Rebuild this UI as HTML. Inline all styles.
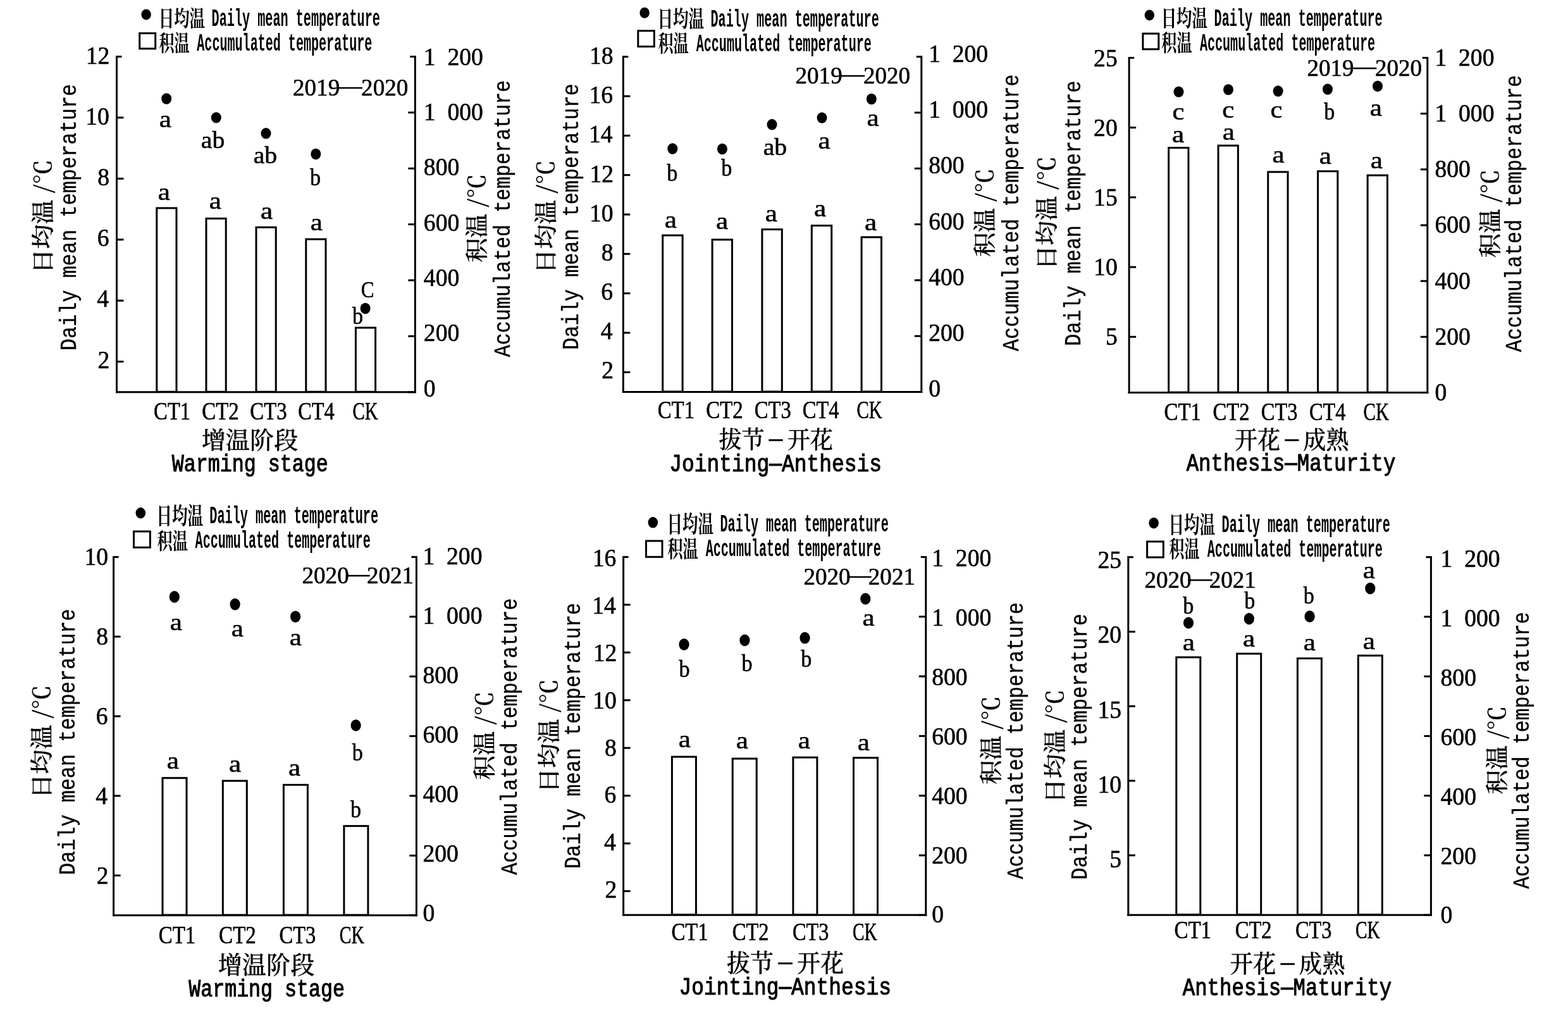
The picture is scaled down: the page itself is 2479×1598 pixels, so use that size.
<!DOCTYPE html>
<html><head><meta charset="utf-8"><title>Daily mean and accumulated temperature by warming stage</title>
<style>html,body{margin:0;padding:0;background:#fff;overflow:hidden} svg{display:block} text{white-space:pre}</style>
</head><body>
<svg width="2479" height="1598" viewBox="0 0 2479 1598">
<rect width="2479" height="1598" fill="#fff"/>
<g>
<line x1="184.50" y1="88.00" x2="184.50" y2="621.30" stroke="#000" stroke-width="3.0"/>
<line x1="656.30" y1="88.00" x2="656.30" y2="621.30" stroke="#000" stroke-width="3.0"/>
<line x1="183.00" y1="619.80" x2="657.80" y2="619.80" stroke="#000" stroke-width="3.0"/>
<line x1="184.50" y1="89.50" x2="192.50" y2="89.50" stroke="#000" stroke-width="3.0"/>
<line x1="184.50" y1="185.92" x2="195.50" y2="185.92" stroke="#000" stroke-width="3.0"/>
<line x1="184.50" y1="282.34" x2="195.50" y2="282.34" stroke="#000" stroke-width="3.0"/>
<line x1="184.50" y1="378.75" x2="195.50" y2="378.75" stroke="#000" stroke-width="3.0"/>
<line x1="184.50" y1="475.17" x2="195.50" y2="475.17" stroke="#000" stroke-width="3.0"/>
<line x1="184.50" y1="571.59" x2="195.50" y2="571.59" stroke="#000" stroke-width="3.0"/>
<line x1="645.30" y1="619.80" x2="656.30" y2="619.80" stroke="#000" stroke-width="3.0"/>
<line x1="645.30" y1="531.42" x2="656.30" y2="531.42" stroke="#000" stroke-width="3.0"/>
<line x1="645.30" y1="443.03" x2="656.30" y2="443.03" stroke="#000" stroke-width="3.0"/>
<line x1="645.30" y1="354.65" x2="656.30" y2="354.65" stroke="#000" stroke-width="3.0"/>
<line x1="645.30" y1="266.27" x2="656.30" y2="266.27" stroke="#000" stroke-width="3.0"/>
<line x1="645.30" y1="177.88" x2="656.30" y2="177.88" stroke="#000" stroke-width="3.0"/>
<line x1="648.30" y1="89.50" x2="656.30" y2="89.50" stroke="#000" stroke-width="3.0"/>
<rect x="247.80" y="328.90" width="31.20" height="290.40" fill="#fff" stroke="#000" stroke-width="3.0"/>
<rect x="326.00" y="345.40" width="31.20" height="273.90" fill="#fff" stroke="#000" stroke-width="3.0"/>
<rect x="405.00" y="359.30" width="31.20" height="260.00" fill="#fff" stroke="#000" stroke-width="3.0"/>
<rect x="483.80" y="378.10" width="31.20" height="241.20" fill="#fff" stroke="#000" stroke-width="3.0"/>
<rect x="562.40" y="518.00" width="31.20" height="101.30" fill="#fff" stroke="#000" stroke-width="3.0"/>
<ellipse cx="263.20" cy="156.00" rx="8.0" ry="8.7" fill="#000"/>
<ellipse cx="341.80" cy="185.90" rx="8.0" ry="8.7" fill="#000"/>
<ellipse cx="420.50" cy="210.80" rx="8.0" ry="8.7" fill="#000"/>
<ellipse cx="499.30" cy="243.50" rx="8.0" ry="8.7" fill="#000"/>
<ellipse cx="577.60" cy="487.50" rx="8.0" ry="8.7" fill="#000"/>
<ellipse cx="231.10" cy="22.90" rx="7.7" ry="8.5" fill="#000"/>
<rect x="220.70" y="52.60" width="25.00" height="24.30" fill="#fff" stroke="#000" stroke-width="3.0"/>
<line x1="985.30" y1="88.20" x2="985.30" y2="621.00" stroke="#000" stroke-width="3.0"/>
<line x1="1456.80" y1="88.20" x2="1456.80" y2="621.00" stroke="#000" stroke-width="3.0"/>
<line x1="983.80" y1="619.50" x2="1458.30" y2="619.50" stroke="#000" stroke-width="3.0"/>
<line x1="985.30" y1="89.70" x2="993.30" y2="89.70" stroke="#000" stroke-width="3.0"/>
<line x1="985.30" y1="152.03" x2="996.30" y2="152.03" stroke="#000" stroke-width="3.0"/>
<line x1="985.30" y1="214.36" x2="996.30" y2="214.36" stroke="#000" stroke-width="3.0"/>
<line x1="985.30" y1="276.69" x2="996.30" y2="276.69" stroke="#000" stroke-width="3.0"/>
<line x1="985.30" y1="339.02" x2="996.30" y2="339.02" stroke="#000" stroke-width="3.0"/>
<line x1="985.30" y1="401.35" x2="996.30" y2="401.35" stroke="#000" stroke-width="3.0"/>
<line x1="985.30" y1="463.68" x2="996.30" y2="463.68" stroke="#000" stroke-width="3.0"/>
<line x1="985.30" y1="526.01" x2="996.30" y2="526.01" stroke="#000" stroke-width="3.0"/>
<line x1="985.30" y1="588.34" x2="996.30" y2="588.34" stroke="#000" stroke-width="3.0"/>
<line x1="1445.80" y1="619.50" x2="1456.80" y2="619.50" stroke="#000" stroke-width="3.0"/>
<line x1="1445.80" y1="531.20" x2="1456.80" y2="531.20" stroke="#000" stroke-width="3.0"/>
<line x1="1445.80" y1="442.90" x2="1456.80" y2="442.90" stroke="#000" stroke-width="3.0"/>
<line x1="1445.80" y1="354.60" x2="1456.80" y2="354.60" stroke="#000" stroke-width="3.0"/>
<line x1="1445.80" y1="266.30" x2="1456.80" y2="266.30" stroke="#000" stroke-width="3.0"/>
<line x1="1445.80" y1="178.00" x2="1456.80" y2="178.00" stroke="#000" stroke-width="3.0"/>
<line x1="1448.80" y1="89.70" x2="1456.80" y2="89.70" stroke="#000" stroke-width="3.0"/>
<rect x="1047.70" y="372.00" width="31.40" height="247.00" fill="#fff" stroke="#000" stroke-width="3.0"/>
<rect x="1126.10" y="378.80" width="31.40" height="240.20" fill="#fff" stroke="#000" stroke-width="3.0"/>
<rect x="1204.90" y="362.60" width="31.40" height="256.40" fill="#fff" stroke="#000" stroke-width="3.0"/>
<rect x="1283.30" y="356.60" width="31.40" height="262.40" fill="#fff" stroke="#000" stroke-width="3.0"/>
<rect x="1362.10" y="374.90" width="31.40" height="244.10" fill="#fff" stroke="#000" stroke-width="3.0"/>
<ellipse cx="1063.30" cy="235.00" rx="8.0" ry="8.7" fill="#000"/>
<ellipse cx="1141.90" cy="235.50" rx="8.0" ry="8.7" fill="#000"/>
<ellipse cx="1220.50" cy="196.80" rx="8.0" ry="8.7" fill="#000"/>
<ellipse cx="1299.50" cy="186.10" rx="8.0" ry="8.7" fill="#000"/>
<ellipse cx="1377.80" cy="156.50" rx="8.0" ry="8.7" fill="#000"/>
<ellipse cx="1019.10" cy="20.20" rx="7.7" ry="8.5" fill="#000"/>
<rect x="1008.80" y="48.70" width="25.50" height="24.90" fill="#fff" stroke="#000" stroke-width="3.0"/>
<line x1="1785.10" y1="89.90" x2="1785.10" y2="622.10" stroke="#000" stroke-width="3.0"/>
<line x1="2256.80" y1="89.90" x2="2256.80" y2="622.10" stroke="#000" stroke-width="3.0"/>
<line x1="1783.60" y1="620.60" x2="2258.30" y2="620.60" stroke="#000" stroke-width="3.0"/>
<line x1="1785.10" y1="91.40" x2="1793.10" y2="91.40" stroke="#000" stroke-width="3.0"/>
<line x1="1785.10" y1="201.65" x2="1796.10" y2="201.65" stroke="#000" stroke-width="3.0"/>
<line x1="1785.10" y1="311.90" x2="1796.10" y2="311.90" stroke="#000" stroke-width="3.0"/>
<line x1="1785.10" y1="422.15" x2="1796.10" y2="422.15" stroke="#000" stroke-width="3.0"/>
<line x1="1785.10" y1="532.40" x2="1796.10" y2="532.40" stroke="#000" stroke-width="3.0"/>
<line x1="2245.80" y1="620.60" x2="2256.80" y2="620.60" stroke="#000" stroke-width="3.0"/>
<line x1="2245.80" y1="532.40" x2="2256.80" y2="532.40" stroke="#000" stroke-width="3.0"/>
<line x1="2245.80" y1="444.20" x2="2256.80" y2="444.20" stroke="#000" stroke-width="3.0"/>
<line x1="2245.80" y1="356.00" x2="2256.80" y2="356.00" stroke="#000" stroke-width="3.0"/>
<line x1="2245.80" y1="267.80" x2="2256.80" y2="267.80" stroke="#000" stroke-width="3.0"/>
<line x1="2245.80" y1="179.60" x2="2256.80" y2="179.60" stroke="#000" stroke-width="3.0"/>
<line x1="2248.80" y1="91.40" x2="2256.80" y2="91.40" stroke="#000" stroke-width="3.0"/>
<rect x="1847.65" y="233.60" width="31.30" height="386.50" fill="#fff" stroke="#000" stroke-width="3.0"/>
<rect x="1926.05" y="230.10" width="31.30" height="390.00" fill="#fff" stroke="#000" stroke-width="3.0"/>
<rect x="2004.75" y="271.80" width="31.30" height="348.30" fill="#fff" stroke="#000" stroke-width="3.0"/>
<rect x="2083.55" y="270.70" width="31.30" height="349.40" fill="#fff" stroke="#000" stroke-width="3.0"/>
<rect x="2162.15" y="277.10" width="31.30" height="343.00" fill="#fff" stroke="#000" stroke-width="3.0"/>
<ellipse cx="1863.50" cy="145.10" rx="8.0" ry="8.7" fill="#000"/>
<ellipse cx="1942.00" cy="141.60" rx="8.0" ry="8.7" fill="#000"/>
<ellipse cx="2020.60" cy="144.00" rx="8.0" ry="8.7" fill="#000"/>
<ellipse cx="2099.00" cy="141.00" rx="8.0" ry="8.7" fill="#000"/>
<ellipse cx="2178.00" cy="136.20" rx="8.0" ry="8.7" fill="#000"/>
<ellipse cx="1817.30" cy="23.90" rx="7.7" ry="8.5" fill="#000"/>
<rect x="1806.90" y="53.10" width="24.90" height="24.70" fill="#fff" stroke="#000" stroke-width="3.0"/>
<line x1="179.60" y1="878.90" x2="179.60" y2="1448.20" stroke="#000" stroke-width="3.0"/>
<line x1="658.40" y1="878.90" x2="658.40" y2="1448.20" stroke="#000" stroke-width="3.0"/>
<line x1="178.10" y1="1446.70" x2="659.90" y2="1446.70" stroke="#000" stroke-width="3.0"/>
<line x1="179.60" y1="880.40" x2="187.60" y2="880.40" stroke="#000" stroke-width="3.0"/>
<line x1="179.60" y1="1006.24" x2="190.60" y2="1006.24" stroke="#000" stroke-width="3.0"/>
<line x1="179.60" y1="1132.09" x2="190.60" y2="1132.09" stroke="#000" stroke-width="3.0"/>
<line x1="179.60" y1="1257.93" x2="190.60" y2="1257.93" stroke="#000" stroke-width="3.0"/>
<line x1="179.60" y1="1383.78" x2="190.60" y2="1383.78" stroke="#000" stroke-width="3.0"/>
<line x1="647.40" y1="1446.70" x2="658.40" y2="1446.70" stroke="#000" stroke-width="3.0"/>
<line x1="647.40" y1="1352.32" x2="658.40" y2="1352.32" stroke="#000" stroke-width="3.0"/>
<line x1="647.40" y1="1257.93" x2="658.40" y2="1257.93" stroke="#000" stroke-width="3.0"/>
<line x1="647.40" y1="1163.55" x2="658.40" y2="1163.55" stroke="#000" stroke-width="3.0"/>
<line x1="647.40" y1="1069.17" x2="658.40" y2="1069.17" stroke="#000" stroke-width="3.0"/>
<line x1="647.40" y1="974.78" x2="658.40" y2="974.78" stroke="#000" stroke-width="3.0"/>
<line x1="650.40" y1="880.40" x2="658.40" y2="880.40" stroke="#000" stroke-width="3.0"/>
<rect x="257.00" y="1229.70" width="38.00" height="216.50" fill="#fff" stroke="#000" stroke-width="3.0"/>
<rect x="352.30" y="1234.20" width="38.00" height="212.00" fill="#fff" stroke="#000" stroke-width="3.0"/>
<rect x="448.40" y="1240.50" width="38.00" height="205.70" fill="#fff" stroke="#000" stroke-width="3.0"/>
<rect x="543.90" y="1305.60" width="38.00" height="140.60" fill="#fff" stroke="#000" stroke-width="3.0"/>
<ellipse cx="275.80" cy="943.40" rx="8.1" ry="9.3" fill="#000"/>
<ellipse cx="371.60" cy="955.10" rx="8.1" ry="9.3" fill="#000"/>
<ellipse cx="467.10" cy="974.70" rx="8.1" ry="9.3" fill="#000"/>
<ellipse cx="562.60" cy="1146.50" rx="8.1" ry="9.3" fill="#000"/>
<ellipse cx="222.30" cy="810.80" rx="7.8" ry="8.7" fill="#000"/>
<rect x="211.50" y="840.00" width="25.90" height="25.30" fill="#fff" stroke="#000" stroke-width="3.0"/>
<line x1="985.60" y1="878.90" x2="985.60" y2="1447.80" stroke="#000" stroke-width="3.0"/>
<line x1="1463.80" y1="878.90" x2="1463.80" y2="1447.80" stroke="#000" stroke-width="3.0"/>
<line x1="984.10" y1="1446.30" x2="1465.30" y2="1446.30" stroke="#000" stroke-width="3.0"/>
<line x1="985.60" y1="880.40" x2="993.60" y2="880.40" stroke="#000" stroke-width="3.0"/>
<line x1="985.60" y1="955.85" x2="996.60" y2="955.85" stroke="#000" stroke-width="3.0"/>
<line x1="985.60" y1="1031.31" x2="996.60" y2="1031.31" stroke="#000" stroke-width="3.0"/>
<line x1="985.60" y1="1106.76" x2="996.60" y2="1106.76" stroke="#000" stroke-width="3.0"/>
<line x1="985.60" y1="1182.21" x2="996.60" y2="1182.21" stroke="#000" stroke-width="3.0"/>
<line x1="985.60" y1="1257.67" x2="996.60" y2="1257.67" stroke="#000" stroke-width="3.0"/>
<line x1="985.60" y1="1333.12" x2="996.60" y2="1333.12" stroke="#000" stroke-width="3.0"/>
<line x1="985.60" y1="1408.57" x2="996.60" y2="1408.57" stroke="#000" stroke-width="3.0"/>
<line x1="1452.80" y1="1446.30" x2="1463.80" y2="1446.30" stroke="#000" stroke-width="3.0"/>
<line x1="1452.80" y1="1351.98" x2="1463.80" y2="1351.98" stroke="#000" stroke-width="3.0"/>
<line x1="1452.80" y1="1257.67" x2="1463.80" y2="1257.67" stroke="#000" stroke-width="3.0"/>
<line x1="1452.80" y1="1163.35" x2="1463.80" y2="1163.35" stroke="#000" stroke-width="3.0"/>
<line x1="1452.80" y1="1069.03" x2="1463.80" y2="1069.03" stroke="#000" stroke-width="3.0"/>
<line x1="1452.80" y1="974.72" x2="1463.80" y2="974.72" stroke="#000" stroke-width="3.0"/>
<line x1="1455.80" y1="880.40" x2="1463.80" y2="880.40" stroke="#000" stroke-width="3.0"/>
<rect x="1062.40" y="1196.20" width="38.00" height="249.60" fill="#fff" stroke="#000" stroke-width="3.0"/>
<rect x="1158.20" y="1199.10" width="38.00" height="246.70" fill="#fff" stroke="#000" stroke-width="3.0"/>
<rect x="1253.90" y="1197.20" width="38.00" height="248.60" fill="#fff" stroke="#000" stroke-width="3.0"/>
<rect x="1349.50" y="1197.80" width="38.00" height="248.00" fill="#fff" stroke="#000" stroke-width="3.0"/>
<ellipse cx="1081.50" cy="1018.60" rx="8.1" ry="9.3" fill="#000"/>
<ellipse cx="1177.40" cy="1012.00" rx="8.1" ry="9.3" fill="#000"/>
<ellipse cx="1272.50" cy="1008.30" rx="8.1" ry="9.3" fill="#000"/>
<ellipse cx="1368.30" cy="946.50" rx="8.1" ry="9.3" fill="#000"/>
<ellipse cx="1032.30" cy="825.80" rx="7.8" ry="8.7" fill="#000"/>
<rect x="1021.50" y="855.00" width="25.50" height="25.30" fill="#fff" stroke="#000" stroke-width="3.0"/>
<line x1="1783.80" y1="879.10" x2="1783.80" y2="1447.70" stroke="#000" stroke-width="3.0"/>
<line x1="2262.40" y1="879.10" x2="2262.40" y2="1447.70" stroke="#000" stroke-width="3.0"/>
<line x1="1782.30" y1="1446.20" x2="2263.90" y2="1446.20" stroke="#000" stroke-width="3.0"/>
<line x1="1783.80" y1="880.60" x2="1791.80" y2="880.60" stroke="#000" stroke-width="3.0"/>
<line x1="1783.80" y1="998.43" x2="1794.80" y2="998.43" stroke="#000" stroke-width="3.0"/>
<line x1="1783.80" y1="1116.27" x2="1794.80" y2="1116.27" stroke="#000" stroke-width="3.0"/>
<line x1="1783.80" y1="1234.10" x2="1794.80" y2="1234.10" stroke="#000" stroke-width="3.0"/>
<line x1="1783.80" y1="1351.93" x2="1794.80" y2="1351.93" stroke="#000" stroke-width="3.0"/>
<line x1="2251.40" y1="1446.20" x2="2262.40" y2="1446.20" stroke="#000" stroke-width="3.0"/>
<line x1="2251.40" y1="1351.93" x2="2262.40" y2="1351.93" stroke="#000" stroke-width="3.0"/>
<line x1="2251.40" y1="1257.67" x2="2262.40" y2="1257.67" stroke="#000" stroke-width="3.0"/>
<line x1="2251.40" y1="1163.40" x2="2262.40" y2="1163.40" stroke="#000" stroke-width="3.0"/>
<line x1="2251.40" y1="1069.13" x2="2262.40" y2="1069.13" stroke="#000" stroke-width="3.0"/>
<line x1="2251.40" y1="974.87" x2="2262.40" y2="974.87" stroke="#000" stroke-width="3.0"/>
<line x1="2254.40" y1="880.60" x2="2262.40" y2="880.60" stroke="#000" stroke-width="3.0"/>
<rect x="1859.80" y="1038.90" width="38.00" height="406.80" fill="#fff" stroke="#000" stroke-width="3.0"/>
<rect x="1955.70" y="1033.20" width="38.00" height="412.50" fill="#fff" stroke="#000" stroke-width="3.0"/>
<rect x="2051.40" y="1040.70" width="38.00" height="405.00" fill="#fff" stroke="#000" stroke-width="3.0"/>
<rect x="2147.30" y="1036.20" width="38.00" height="409.50" fill="#fff" stroke="#000" stroke-width="3.0"/>
<ellipse cx="1879.00" cy="984.50" rx="8.1" ry="9.3" fill="#000"/>
<ellipse cx="1974.80" cy="978.00" rx="8.1" ry="9.3" fill="#000"/>
<ellipse cx="2070.60" cy="974.40" rx="8.1" ry="9.3" fill="#000"/>
<ellipse cx="2166.30" cy="930.00" rx="8.1" ry="9.3" fill="#000"/>
<ellipse cx="1824.10" cy="826.70" rx="7.8" ry="8.7" fill="#000"/>
<rect x="1813.60" y="856.00" width="25.70" height="24.90" fill="#fff" stroke="#000" stroke-width="3.0"/>
</g>
<g fill="#000">
<text transform="translate(135.81,100.69) scale(0.9900,1.0450)" font-family="'Liberation Serif', 'Noto Serif CJK SC', serif" font-size="38" stroke="#000" stroke-width="0.6" stroke-linejoin="round">12</text>
<text transform="translate(135.32,196.87) scale(0.9900,1.0450)" font-family="'Liberation Serif', 'Noto Serif CJK SC', serif" font-size="38" stroke="#000" stroke-width="0.6" stroke-linejoin="round">10</text>
<text transform="translate(154.13,293.06) scale(0.9900,1.0450)" font-family="'Liberation Serif', 'Noto Serif CJK SC', serif" font-size="38" stroke="#000" stroke-width="0.6" stroke-linejoin="round">8</text>
<text transform="translate(153.63,389.24) scale(0.9900,1.0450)" font-family="'Liberation Serif', 'Noto Serif CJK SC', serif" font-size="38" stroke="#000" stroke-width="0.6" stroke-linejoin="round">6</text>
<text transform="translate(153.14,485.42) scale(0.9900,1.0450)" font-family="'Liberation Serif', 'Noto Serif CJK SC', serif" font-size="38" stroke="#000" stroke-width="0.6" stroke-linejoin="round">4</text>
<text transform="translate(154.62,581.60) scale(0.9900,1.0450)" font-family="'Liberation Serif', 'Noto Serif CJK SC', serif" font-size="38" stroke="#000" stroke-width="0.6" stroke-linejoin="round">2</text>
<text transform="translate(669.83,626.79) scale(0.9900,1.0450)" font-family="'Liberation Serif', 'Noto Serif CJK SC', serif" font-size="38" stroke="#000" stroke-width="0.6" stroke-linejoin="round">0</text>
<text transform="translate(669.83,539.44) scale(0.9900,1.0450)" font-family="'Liberation Serif', 'Noto Serif CJK SC', serif" font-size="38" stroke="#000" stroke-width="0.6" stroke-linejoin="round">200</text>
<text transform="translate(669.83,452.09) scale(0.9900,1.0450)" font-family="'Liberation Serif', 'Noto Serif CJK SC', serif" font-size="38" stroke="#000" stroke-width="0.6" stroke-linejoin="round">400</text>
<text transform="translate(669.83,364.74) scale(0.9900,1.0450)" font-family="'Liberation Serif', 'Noto Serif CJK SC', serif" font-size="38" stroke="#000" stroke-width="0.6" stroke-linejoin="round">600</text>
<text transform="translate(669.83,277.39) scale(0.9900,1.0450)" font-family="'Liberation Serif', 'Noto Serif CJK SC', serif" font-size="38" stroke="#000" stroke-width="0.6" stroke-linejoin="round">800</text>
<text transform="translate(669.83,190.04) scale(0.9900,1.0450)" font-family="'Liberation Serif', 'Noto Serif CJK SC', serif" font-size="38" stroke="#000" stroke-width="0.6" stroke-linejoin="round">1 000</text>
<text transform="translate(669.83,102.69) scale(0.9900,1.0450)" font-family="'Liberation Serif', 'Noto Serif CJK SC', serif" font-size="38" stroke="#000" stroke-width="0.6" stroke-linejoin="round">1 200</text>
<text transform="translate(251.78,200.84) scale(1.1400,0.9900)" font-family="'Liberation Serif', 'Noto Serif CJK SC', serif" font-size="38" stroke="#000" stroke-width="0.6" stroke-linejoin="round">a</text>
<text transform="translate(317.87,234.25) scale(1.0450,1.0000)" font-family="'Liberation Serif', 'Noto Serif CJK SC', serif" font-size="38" stroke="#000" stroke-width="0.6" stroke-linejoin="round">ab</text>
<text transform="translate(400.67,257.65) scale(1.0450,1.0000)" font-family="'Liberation Serif', 'Noto Serif CJK SC', serif" font-size="38" stroke="#000" stroke-width="0.6" stroke-linejoin="round">ab</text>
<text transform="translate(490.12,292.50) scale(0.9000,1.0000)" font-family="'Liberation Serif', 'Noto Serif CJK SC', serif" font-size="38" stroke="#000" stroke-width="0.6" stroke-linejoin="round">b</text>
<text transform="translate(249.73,315.89) scale(1.1400,0.9900)" font-family="'Liberation Serif', 'Noto Serif CJK SC', serif" font-size="38" stroke="#000" stroke-width="0.6" stroke-linejoin="round">a</text>
<text transform="translate(330.68,329.69) scale(1.1400,0.9900)" font-family="'Liberation Serif', 'Noto Serif CJK SC', serif" font-size="38" stroke="#000" stroke-width="0.6" stroke-linejoin="round">a</text>
<text transform="translate(411.93,346.49) scale(1.1400,0.9900)" font-family="'Liberation Serif', 'Noto Serif CJK SC', serif" font-size="38" stroke="#000" stroke-width="0.6" stroke-linejoin="round">a</text>
<text transform="translate(490.73,364.34) scale(1.1400,0.9900)" font-family="'Liberation Serif', 'Noto Serif CJK SC', serif" font-size="38" stroke="#000" stroke-width="0.6" stroke-linejoin="round">a</text>
<text transform="translate(570.85,470.00) scale(0.8200,0.9700)" font-family="'Liberation Serif', 'Noto Serif CJK SC', serif" font-size="38" stroke="#000" stroke-width="0.6" stroke-linejoin="round">C</text>
<text transform="translate(557.12,512.10) scale(0.9000,1.0000)" font-family="'Liberation Serif', 'Noto Serif CJK SC', serif" font-size="38" stroke="#000" stroke-width="0.6" stroke-linejoin="round">b</text>
<text transform="translate(463.08,151.08) scale(0.9750,1.0200)" x="0.00 19.00 38.00 57.00 74.40 110.81 129.81 148.81 167.81" dy="0 0 0 0 -3 3 0 0 0" font-family="'Liberation Serif', 'Noto Serif CJK SC', serif" font-size="38" stroke="#000" stroke-width="0.6" stroke-linejoin="round">2019—2020</text>
<text transform="translate(250.79,42.00) scale(0.6785,0.9853)" font-family="'Noto Serif CJK SC', 'Noto Serif CJK SC', serif" font-size="36" font-weight="700">日均温</text>
<text transform="translate(334.57,41.20) scale(0.5313,1.0000)" font-family="'Liberation Mono', 'Noto Serif CJK SC', serif" font-size="38" font-weight="bold">Daily mean temperature</text>
<text transform="translate(251.40,81.39) scale(0.6718,0.9882)" font-family="'Noto Serif CJK SC', 'Noto Serif CJK SC', serif" font-size="36" font-weight="700">积温</text>
<text transform="translate(311.30,80.08) scale(0.5286,1.0000)" font-family="'Liberation Mono', 'Noto Serif CJK SC', serif" font-size="38" font-weight="bold">Accumulated temperature</text>
<text transform="translate(80.92,432.59) rotate(-90) scale(1.0842,1.0000)" font-family="'Noto Serif CJK SC', 'Noto Serif CJK SC', serif" font-size="36" font-weight="500" stroke="#000" stroke-width="0.3" stroke-linejoin="round">日均温 /℃</text>
<text transform="translate(120.03,554.27) rotate(-90) scale(0.8635,1.0000)" font-family="'Liberation Mono', 'Noto Serif CJK SC', serif" font-size="37" stroke="#000" stroke-width="0.4" stroke-linejoin="round">Daily mean temperature</text>
<text transform="translate(766.92,414.87) rotate(-90) scale(1.0741,1.0000)" font-family="'Noto Serif CJK SC', 'Noto Serif CJK SC', serif" font-size="36" font-weight="500" stroke="#000" stroke-width="0.3" stroke-linejoin="round">积温 /℃</text>
<text transform="translate(805.83,564.19) rotate(-90) scale(0.8570,1.0000)" font-family="'Liberation Mono', 'Noto Serif CJK SC', serif" font-size="37" stroke="#000" stroke-width="0.4" stroke-linejoin="round">Accumulated temperature</text>
<text transform="translate(242.89,662.53) scale(0.8848,1.0600)" font-family="'Liberation Serif', 'Noto Serif CJK SC', serif" font-size="37" stroke="#000" stroke-width="0.6" stroke-linejoin="round">CT1</text>
<text transform="translate(319.29,662.53) scale(0.8892,1.0600)" font-family="'Liberation Serif', 'Noto Serif CJK SC', serif" font-size="37" stroke="#000" stroke-width="0.6" stroke-linejoin="round">CT2</text>
<text transform="translate(395.29,662.53) scale(0.8854,1.0600)" font-family="'Liberation Serif', 'Noto Serif CJK SC', serif" font-size="37" stroke="#000" stroke-width="0.6" stroke-linejoin="round">CT3</text>
<text transform="translate(471.21,662.53) scale(0.8747,1.0600)" font-family="'Liberation Serif', 'Noto Serif CJK SC', serif" font-size="37" stroke="#000" stroke-width="0.6" stroke-linejoin="round">CT4</text>
<text transform="translate(557.52,662.53) scale(0.7800,1.0600)" font-family="'Liberation Serif', 'Noto Serif CJK SC', serif" font-size="37" stroke="#000" stroke-width="0.6" stroke-linejoin="round">CK</text>
<text transform="translate(318.64,708.55) scale(1.0060,1.0000)" x="0.00 38.00 76.00 114.00" dy="0.00 0.00 0.00 0.00" font-family="'Liberation Mono', 'Noto Serif CJK SC', serif" font-size="38" font-weight="500" stroke="#000" stroke-width="0.3" stroke-linejoin="round">增温阶段</text>
<text transform="translate(271.82,745.20) scale(0.8336,1.0000)" font-family="'Liberation Mono', 'Noto Serif CJK SC', serif" font-size="38" stroke="#000" stroke-width="1.1" stroke-linejoin="round">Warming stage</text>
<text transform="translate(931.92,101.09) scale(0.9900,1.0450)" font-family="'Liberation Serif', 'Noto Serif CJK SC', serif" font-size="38" stroke="#000" stroke-width="0.6" stroke-linejoin="round">18</text>
<text transform="translate(931.42,163.26) scale(0.9900,1.0450)" font-family="'Liberation Serif', 'Noto Serif CJK SC', serif" font-size="38" stroke="#000" stroke-width="0.6" stroke-linejoin="round">16</text>
<text transform="translate(930.93,225.42) scale(0.9900,1.0450)" font-family="'Liberation Serif', 'Noto Serif CJK SC', serif" font-size="38" stroke="#000" stroke-width="0.6" stroke-linejoin="round">14</text>
<text transform="translate(932.41,287.59) scale(0.9900,1.0450)" font-family="'Liberation Serif', 'Noto Serif CJK SC', serif" font-size="38" stroke="#000" stroke-width="0.6" stroke-linejoin="round">12</text>
<text transform="translate(931.92,349.75) scale(0.9900,1.0450)" font-family="'Liberation Serif', 'Noto Serif CJK SC', serif" font-size="38" stroke="#000" stroke-width="0.6" stroke-linejoin="round">10</text>
<text transform="translate(950.73,411.92) scale(0.9900,1.0450)" font-family="'Liberation Serif', 'Noto Serif CJK SC', serif" font-size="38" stroke="#000" stroke-width="0.6" stroke-linejoin="round">8</text>
<text transform="translate(950.23,474.08) scale(0.9900,1.0450)" font-family="'Liberation Serif', 'Noto Serif CJK SC', serif" font-size="38" stroke="#000" stroke-width="0.6" stroke-linejoin="round">6</text>
<text transform="translate(949.74,536.25) scale(0.9900,1.0450)" font-family="'Liberation Serif', 'Noto Serif CJK SC', serif" font-size="38" stroke="#000" stroke-width="0.6" stroke-linejoin="round">4</text>
<text transform="translate(951.22,598.41) scale(0.9900,1.0450)" font-family="'Liberation Serif', 'Noto Serif CJK SC', serif" font-size="38" stroke="#000" stroke-width="0.6" stroke-linejoin="round">2</text>
<text transform="translate(1468.13,627.49) scale(0.9900,1.0450)" font-family="'Liberation Serif', 'Noto Serif CJK SC', serif" font-size="38" stroke="#000" stroke-width="0.6" stroke-linejoin="round">0</text>
<text transform="translate(1468.13,539.23) scale(0.9900,1.0450)" font-family="'Liberation Serif', 'Noto Serif CJK SC', serif" font-size="38" stroke="#000" stroke-width="0.6" stroke-linejoin="round">200</text>
<text transform="translate(1468.13,450.96) scale(0.9900,1.0450)" font-family="'Liberation Serif', 'Noto Serif CJK SC', serif" font-size="38" stroke="#000" stroke-width="0.6" stroke-linejoin="round">400</text>
<text transform="translate(1468.13,362.69) scale(0.9900,1.0450)" font-family="'Liberation Serif', 'Noto Serif CJK SC', serif" font-size="38" stroke="#000" stroke-width="0.6" stroke-linejoin="round">600</text>
<text transform="translate(1468.13,274.43) scale(0.9900,1.0450)" font-family="'Liberation Serif', 'Noto Serif CJK SC', serif" font-size="38" stroke="#000" stroke-width="0.6" stroke-linejoin="round">800</text>
<text transform="translate(1468.13,186.16) scale(0.9900,1.0450)" font-family="'Liberation Serif', 'Noto Serif CJK SC', serif" font-size="38" stroke="#000" stroke-width="0.6" stroke-linejoin="round">1 000</text>
<text transform="translate(1468.13,97.89) scale(0.9900,1.0450)" font-family="'Liberation Serif', 'Noto Serif CJK SC', serif" font-size="38" stroke="#000" stroke-width="0.6" stroke-linejoin="round">1 200</text>
<text transform="translate(1054.28,286.35) scale(0.9000,1.0000)" font-family="'Liberation Serif', 'Noto Serif CJK SC', serif" font-size="38" stroke="#000" stroke-width="0.6" stroke-linejoin="round">b</text>
<text transform="translate(1140.28,278.25) scale(0.9000,1.0000)" font-family="'Liberation Serif', 'Noto Serif CJK SC', serif" font-size="38" stroke="#000" stroke-width="0.6" stroke-linejoin="round">b</text>
<text transform="translate(1206.72,244.65) scale(1.0450,1.0000)" font-family="'Liberation Serif', 'Noto Serif CJK SC', serif" font-size="38" stroke="#000" stroke-width="0.6" stroke-linejoin="round">ab</text>
<text transform="translate(1293.58,234.84) scale(1.1400,0.9900)" font-family="'Liberation Serif', 'Noto Serif CJK SC', serif" font-size="38" stroke="#000" stroke-width="0.6" stroke-linejoin="round">a</text>
<text transform="translate(1370.53,199.34) scale(1.1400,0.9900)" font-family="'Liberation Serif', 'Noto Serif CJK SC', serif" font-size="38" stroke="#000" stroke-width="0.6" stroke-linejoin="round">a</text>
<text transform="translate(1050.73,360.24) scale(1.1400,0.9900)" font-family="'Liberation Serif', 'Noto Serif CJK SC', serif" font-size="38" stroke="#000" stroke-width="0.6" stroke-linejoin="round">a</text>
<text transform="translate(1131.88,361.69) scale(1.1400,0.9900)" font-family="'Liberation Serif', 'Noto Serif CJK SC', serif" font-size="38" stroke="#000" stroke-width="0.6" stroke-linejoin="round">a</text>
<text transform="translate(1209.83,350.49) scale(1.1400,0.9900)" font-family="'Liberation Serif', 'Noto Serif CJK SC', serif" font-size="38" stroke="#000" stroke-width="0.6" stroke-linejoin="round">a</text>
<text transform="translate(1286.93,341.54) scale(1.1400,0.9900)" font-family="'Liberation Serif', 'Noto Serif CJK SC', serif" font-size="38" stroke="#000" stroke-width="0.6" stroke-linejoin="round">a</text>
<text transform="translate(1367.03,364.29) scale(1.1400,0.9900)" font-family="'Liberation Serif', 'Noto Serif CJK SC', serif" font-size="38" stroke="#000" stroke-width="0.6" stroke-linejoin="round">a</text>
<text transform="translate(1257.58,132.23) scale(0.9750,1.0200)" x="0.00 19.00 38.00 57.00 74.10 110.19 129.19 148.19 167.19" dy="0 0 0 0 -3 3 0 0 0" font-family="'Liberation Serif', 'Noto Serif CJK SC', serif" font-size="38" stroke="#000" stroke-width="0.6" stroke-linejoin="round">2019—2020</text>
<text transform="translate(1039.47,43.34) scale(0.6815,1.0029)" font-family="'Noto Serif CJK SC', 'Noto Serif CJK SC', serif" font-size="36" font-weight="700">日均温</text>
<text transform="translate(1123.47,42.25) scale(0.5313,1.0000)" font-family="'Liberation Mono', 'Noto Serif CJK SC', serif" font-size="38" font-weight="bold">Daily mean temperature</text>
<text transform="translate(1040.50,81.84) scale(0.6704,1.0029)" font-family="'Noto Serif CJK SC', 'Noto Serif CJK SC', serif" font-size="36" font-weight="700">积温</text>
<text transform="translate(1100.70,81.12) scale(0.5286,1.0000)" font-family="'Liberation Mono', 'Noto Serif CJK SC', serif" font-size="38" font-weight="bold">Accumulated temperature</text>
<text transform="translate(876.02,432.45) rotate(-90) scale(1.0790,1.0000)" font-family="'Noto Serif CJK SC', 'Noto Serif CJK SC', serif" font-size="36" font-weight="500" stroke="#000" stroke-width="0.3" stroke-linejoin="round">日均温 /℃</text>
<text transform="translate(913.83,552.67) rotate(-90) scale(0.8612,1.0000)" font-family="'Liberation Mono', 'Noto Serif CJK SC', serif" font-size="37" stroke="#000" stroke-width="0.4" stroke-linejoin="round">Daily mean temperature</text>
<text transform="translate(1570.17,406.07) rotate(-90) scale(1.0741,1.0000)" font-family="'Noto Serif CJK SC', 'Noto Serif CJK SC', serif" font-size="36" font-weight="500" stroke="#000" stroke-width="0.3" stroke-linejoin="round">积温 /℃</text>
<text transform="translate(1609.62,554.99) rotate(-90) scale(0.8570,1.0000)" font-family="'Liberation Mono', 'Noto Serif CJK SC', serif" font-size="37" stroke="#000" stroke-width="0.4" stroke-linejoin="round">Accumulated temperature</text>
<text transform="translate(1039.69,661.13) scale(0.8880,1.0600)" font-family="'Liberation Serif', 'Noto Serif CJK SC', serif" font-size="37" stroke="#000" stroke-width="0.6" stroke-linejoin="round">CT1</text>
<text transform="translate(1116.29,661.13) scale(0.8892,1.0600)" font-family="'Liberation Serif', 'Noto Serif CJK SC', serif" font-size="37" stroke="#000" stroke-width="0.6" stroke-linejoin="round">CT2</text>
<text transform="translate(1192.80,661.13) scale(0.8806,1.0600)" font-family="'Liberation Serif', 'Noto Serif CJK SC', serif" font-size="37" stroke="#000" stroke-width="0.6" stroke-linejoin="round">CT3</text>
<text transform="translate(1268.81,661.13) scale(0.8747,1.0600)" font-family="'Liberation Serif', 'Noto Serif CJK SC', serif" font-size="37" stroke="#000" stroke-width="0.6" stroke-linejoin="round">CT4</text>
<text transform="translate(1354.52,661.13) scale(0.7840,1.0600)" font-family="'Liberation Serif', 'Noto Serif CJK SC', serif" font-size="37" stroke="#000" stroke-width="0.6" stroke-linejoin="round">CK</text>
<text transform="translate(1136.39,708.17) scale(0.9495,0.9930)" x="0.00 38.00 83.62 114.00 152.00" dy="0.00 0.00 -3.02 3.02 0.00" font-family="'Liberation Mono', 'Noto Serif CJK SC', serif" font-size="38" font-weight="500" stroke="#000" stroke-width="0.3" stroke-linejoin="round">拔节—开花</text>
<text transform="translate(1058.32,744.75) scale(0.8659,1.0000)" font-family="'Liberation Mono', 'Noto Serif CJK SC', serif" font-size="38" stroke="#000" stroke-width="1.1" stroke-linejoin="round">Jointing—Anthesis</text>
<text transform="translate(1729.12,104.86) scale(0.9900,1.0450)" font-family="'Liberation Serif', 'Noto Serif CJK SC', serif" font-size="38" stroke="#000" stroke-width="0.6" stroke-linejoin="round">25</text>
<text transform="translate(1729.12,214.99) scale(0.9900,1.0450)" font-family="'Liberation Serif', 'Noto Serif CJK SC', serif" font-size="38" stroke="#000" stroke-width="0.6" stroke-linejoin="round">20</text>
<text transform="translate(1729.12,324.86) scale(0.9900,1.0450)" font-family="'Liberation Serif', 'Noto Serif CJK SC', serif" font-size="38" stroke="#000" stroke-width="0.6" stroke-linejoin="round">15</text>
<text transform="translate(1729.12,434.99) scale(0.9900,1.0450)" font-family="'Liberation Serif', 'Noto Serif CJK SC', serif" font-size="38" stroke="#000" stroke-width="0.6" stroke-linejoin="round">10</text>
<text transform="translate(1747.93,544.73) scale(0.9900,1.0450)" font-family="'Liberation Serif', 'Noto Serif CJK SC', serif" font-size="38" stroke="#000" stroke-width="0.6" stroke-linejoin="round">5</text>
<text transform="translate(2268.43,632.99) scale(0.9900,1.0450)" font-family="'Liberation Serif', 'Noto Serif CJK SC', serif" font-size="38" stroke="#000" stroke-width="0.6" stroke-linejoin="round">0</text>
<text transform="translate(2268.43,544.78) scale(0.9900,1.0450)" font-family="'Liberation Serif', 'Noto Serif CJK SC', serif" font-size="38" stroke="#000" stroke-width="0.6" stroke-linejoin="round">200</text>
<text transform="translate(2268.43,456.56) scale(0.9900,1.0450)" font-family="'Liberation Serif', 'Noto Serif CJK SC', serif" font-size="38" stroke="#000" stroke-width="0.6" stroke-linejoin="round">400</text>
<text transform="translate(2268.43,368.34) scale(0.9900,1.0450)" font-family="'Liberation Serif', 'Noto Serif CJK SC', serif" font-size="38" stroke="#000" stroke-width="0.6" stroke-linejoin="round">600</text>
<text transform="translate(2268.43,280.13) scale(0.9900,1.0450)" font-family="'Liberation Serif', 'Noto Serif CJK SC', serif" font-size="38" stroke="#000" stroke-width="0.6" stroke-linejoin="round">800</text>
<text transform="translate(2268.43,191.91) scale(0.9900,1.0450)" font-family="'Liberation Serif', 'Noto Serif CJK SC', serif" font-size="38" stroke="#000" stroke-width="0.6" stroke-linejoin="round">1 000</text>
<text transform="translate(2268.43,103.69) scale(0.9900,1.0450)" font-family="'Liberation Serif', 'Noto Serif CJK SC', serif" font-size="38" stroke="#000" stroke-width="0.6" stroke-linejoin="round">1 200</text>
<text transform="translate(1853.39,188.75) scale(1.1200,0.9800)" font-family="'Liberation Serif', 'Noto Serif CJK SC', serif" font-size="38" stroke="#000" stroke-width="0.6" stroke-linejoin="round">c</text>
<text transform="translate(1932.24,185.55) scale(1.1200,0.9800)" font-family="'Liberation Serif', 'Noto Serif CJK SC', serif" font-size="38" stroke="#000" stroke-width="0.6" stroke-linejoin="round">c</text>
<text transform="translate(2008.39,185.55) scale(1.1200,0.9800)" font-family="'Liberation Serif', 'Noto Serif CJK SC', serif" font-size="38" stroke="#000" stroke-width="0.6" stroke-linejoin="round">c</text>
<text transform="translate(2093.32,189.35) scale(0.9000,1.0000)" font-family="'Liberation Serif', 'Noto Serif CJK SC', serif" font-size="38" stroke="#000" stroke-width="0.6" stroke-linejoin="round">b</text>
<text transform="translate(2165.83,182.69) scale(1.1400,0.9900)" font-family="'Liberation Serif', 'Noto Serif CJK SC', serif" font-size="38" stroke="#000" stroke-width="0.6" stroke-linejoin="round">a</text>
<text transform="translate(1852.93,224.79) scale(1.1400,0.9900)" font-family="'Liberation Serif', 'Noto Serif CJK SC', serif" font-size="38" stroke="#000" stroke-width="0.6" stroke-linejoin="round">a</text>
<text transform="translate(1932.83,220.79) scale(1.1400,0.9900)" font-family="'Liberation Serif', 'Noto Serif CJK SC', serif" font-size="38" stroke="#000" stroke-width="0.6" stroke-linejoin="round">a</text>
<text transform="translate(2011.53,256.59) scale(1.1400,0.9900)" font-family="'Liberation Serif', 'Noto Serif CJK SC', serif" font-size="38" stroke="#000" stroke-width="0.6" stroke-linejoin="round">a</text>
<text transform="translate(2085.78,259.39) scale(1.1400,0.9900)" font-family="'Liberation Serif', 'Noto Serif CJK SC', serif" font-size="38" stroke="#000" stroke-width="0.6" stroke-linejoin="round">a</text>
<text transform="translate(2166.63,265.94) scale(1.1400,0.9900)" font-family="'Liberation Serif', 'Noto Serif CJK SC', serif" font-size="38" stroke="#000" stroke-width="0.6" stroke-linejoin="round">a</text>
<text transform="translate(2066.48,120.38) scale(0.9750,1.0200)" x="0.00 19.00 38.00 57.00 74.15 110.29 129.29 148.29 167.29" dy="0 0 0 0 -3 3 0 0 0" font-family="'Liberation Serif', 'Noto Serif CJK SC', serif" font-size="38" stroke="#000" stroke-width="0.6" stroke-linejoin="round">2019—2020</text>
<text transform="translate(1835.69,42.49) scale(0.6785,1.0176)" font-family="'Noto Serif CJK SC', 'Noto Serif CJK SC', serif" font-size="36" font-weight="700">日均温</text>
<text transform="translate(1919.57,41.35) scale(0.5307,1.0000)" font-family="'Liberation Mono', 'Noto Serif CJK SC', serif" font-size="38" font-weight="bold">Daily mean temperature</text>
<text transform="translate(1836.30,81.43) scale(0.6704,1.0059)" font-family="'Noto Serif CJK SC', 'Noto Serif CJK SC', serif" font-size="36" font-weight="700">积温</text>
<text transform="translate(1896.90,79.97) scale(0.5286,1.0000)" font-family="'Liberation Mono', 'Noto Serif CJK SC', serif" font-size="38" font-weight="bold">Accumulated temperature</text>
<text transform="translate(1668.22,426.56) rotate(-90) scale(1.0797,1.0000)" font-family="'Noto Serif CJK SC', 'Noto Serif CJK SC', serif" font-size="36" font-weight="500" stroke="#000" stroke-width="0.3" stroke-linejoin="round">日均温 /℃</text>
<text transform="translate(1707.53,546.66) rotate(-90) scale(0.8581,1.0000)" font-family="'Liberation Mono', 'Noto Serif CJK SC', serif" font-size="37" stroke="#000" stroke-width="0.4" stroke-linejoin="round">Daily mean temperature</text>
<text transform="translate(2369.07,407.47) rotate(-90) scale(1.0741,1.0000)" font-family="'Noto Serif CJK SC', 'Noto Serif CJK SC', serif" font-size="36" font-weight="500" stroke="#000" stroke-width="0.3" stroke-linejoin="round">积温 /℃</text>
<text transform="translate(2404.93,556.19) rotate(-90) scale(0.8570,1.0000)" font-family="'Liberation Mono', 'Noto Serif CJK SC', serif" font-size="37" stroke="#000" stroke-width="0.4" stroke-linejoin="round">Accumulated temperature</text>
<text transform="translate(1840.59,663.94) scale(0.8848,1.0600)" font-family="'Liberation Serif', 'Noto Serif CJK SC', serif" font-size="37" stroke="#000" stroke-width="0.6" stroke-linejoin="round">CT1</text>
<text transform="translate(1917.60,663.94) scale(0.8813,1.0600)" font-family="'Liberation Serif', 'Noto Serif CJK SC', serif" font-size="37" stroke="#000" stroke-width="0.6" stroke-linejoin="round">CT2</text>
<text transform="translate(1993.81,663.94) scale(0.8743,1.0600)" font-family="'Liberation Serif', 'Noto Serif CJK SC', serif" font-size="37" stroke="#000" stroke-width="0.6" stroke-linejoin="round">CT3</text>
<text transform="translate(2070.01,663.94) scale(0.8732,1.0600)" font-family="'Liberation Serif', 'Noto Serif CJK SC', serif" font-size="37" stroke="#000" stroke-width="0.6" stroke-linejoin="round">CT4</text>
<text transform="translate(2155.52,663.94) scale(0.7860,1.0600)" font-family="'Liberation Serif', 'Noto Serif CJK SC', serif" font-size="37" stroke="#000" stroke-width="0.6" stroke-linejoin="round">CK</text>
<text transform="translate(1951.91,708.51) scale(0.9509,1.0250)" x="0.00 38.00 83.62 114.00 152.00" dy="0.00 0.00 -2.93 2.93 0.00" font-family="'Liberation Mono', 'Noto Serif CJK SC', serif" font-size="38" font-weight="500" stroke="#000" stroke-width="0.3" stroke-linejoin="round">开花—成熟</text>
<text transform="translate(1875.63,744.45) scale(0.8534,1.0000)" font-family="'Liberation Mono', 'Noto Serif CJK SC', serif" font-size="38" stroke="#000" stroke-width="1.1" stroke-linejoin="round">Anthesis—Maturity</text>
<text transform="translate(133.52,892.79) scale(0.9900,1.0450)" font-family="'Liberation Serif', 'Noto Serif CJK SC', serif" font-size="38" stroke="#000" stroke-width="0.6" stroke-linejoin="round">10</text>
<text transform="translate(152.33,1018.82) scale(0.9900,1.0450)" font-family="'Liberation Serif', 'Noto Serif CJK SC', serif" font-size="38" stroke="#000" stroke-width="0.6" stroke-linejoin="round">8</text>
<text transform="translate(151.83,1144.84) scale(0.9900,1.0450)" font-family="'Liberation Serif', 'Noto Serif CJK SC', serif" font-size="38" stroke="#000" stroke-width="0.6" stroke-linejoin="round">6</text>
<text transform="translate(151.34,1270.86) scale(0.9900,1.0450)" font-family="'Liberation Serif', 'Noto Serif CJK SC', serif" font-size="38" stroke="#000" stroke-width="0.6" stroke-linejoin="round">4</text>
<text transform="translate(152.82,1396.88) scale(0.9900,1.0450)" font-family="'Liberation Serif', 'Noto Serif CJK SC', serif" font-size="38" stroke="#000" stroke-width="0.6" stroke-linejoin="round">2</text>
<text transform="translate(668.43,1455.99) scale(0.9900,1.0450)" font-family="'Liberation Serif', 'Noto Serif CJK SC', serif" font-size="38" stroke="#000" stroke-width="0.6" stroke-linejoin="round">0</text>
<text transform="translate(668.43,1361.93) scale(0.9900,1.0450)" font-family="'Liberation Serif', 'Noto Serif CJK SC', serif" font-size="38" stroke="#000" stroke-width="0.6" stroke-linejoin="round">200</text>
<text transform="translate(668.43,1267.86) scale(0.9900,1.0450)" font-family="'Liberation Serif', 'Noto Serif CJK SC', serif" font-size="38" stroke="#000" stroke-width="0.6" stroke-linejoin="round">400</text>
<text transform="translate(668.43,1173.79) scale(0.9900,1.0450)" font-family="'Liberation Serif', 'Noto Serif CJK SC', serif" font-size="38" stroke="#000" stroke-width="0.6" stroke-linejoin="round">600</text>
<text transform="translate(668.43,1079.73) scale(0.9900,1.0450)" font-family="'Liberation Serif', 'Noto Serif CJK SC', serif" font-size="38" stroke="#000" stroke-width="0.6" stroke-linejoin="round">800</text>
<text transform="translate(668.43,985.66) scale(0.9900,1.0450)" font-family="'Liberation Serif', 'Noto Serif CJK SC', serif" font-size="38" stroke="#000" stroke-width="0.6" stroke-linejoin="round">1 000</text>
<text transform="translate(668.43,891.59) scale(0.9900,1.0450)" font-family="'Liberation Serif', 'Noto Serif CJK SC', serif" font-size="38" stroke="#000" stroke-width="0.6" stroke-linejoin="round">1 200</text>
<text transform="translate(268.73,996.39) scale(1.1400,0.9900)" font-family="'Liberation Serif', 'Noto Serif CJK SC', serif" font-size="38" stroke="#000" stroke-width="0.6" stroke-linejoin="round">a</text>
<text transform="translate(365.83,1005.64) scale(1.1400,0.9900)" font-family="'Liberation Serif', 'Noto Serif CJK SC', serif" font-size="38" stroke="#000" stroke-width="0.6" stroke-linejoin="round">a</text>
<text transform="translate(457.73,1019.59) scale(1.1400,0.9900)" font-family="'Liberation Serif', 'Noto Serif CJK SC', serif" font-size="38" stroke="#000" stroke-width="0.6" stroke-linejoin="round">a</text>
<text transform="translate(556.73,1201.65) scale(0.9000,1.0000)" font-family="'Liberation Serif', 'Noto Serif CJK SC', serif" font-size="38" stroke="#000" stroke-width="0.6" stroke-linejoin="round">b</text>
<text transform="translate(263.78,1215.44) scale(1.1400,0.9900)" font-family="'Liberation Serif', 'Noto Serif CJK SC', serif" font-size="38" stroke="#000" stroke-width="0.6" stroke-linejoin="round">a</text>
<text transform="translate(361.93,1220.49) scale(1.1400,0.9900)" font-family="'Liberation Serif', 'Noto Serif CJK SC', serif" font-size="38" stroke="#000" stroke-width="0.6" stroke-linejoin="round">a</text>
<text transform="translate(455.93,1225.59) scale(1.1400,0.9900)" font-family="'Liberation Serif', 'Noto Serif CJK SC', serif" font-size="38" stroke="#000" stroke-width="0.6" stroke-linejoin="round">a</text>
<text transform="translate(553.97,1291.65) scale(0.9000,1.0000)" font-family="'Liberation Serif', 'Noto Serif CJK SC', serif" font-size="38" stroke="#000" stroke-width="0.6" stroke-linejoin="round">b</text>
<text transform="translate(477.58,922.23) scale(0.9750,1.0200)" x="0.00 19.00 38.00 57.00 71.50 104.99 123.99 142.99 161.99" dy="0 0 0 0 -3 3 0 0 0" font-family="'Liberation Serif', 'Noto Serif CJK SC', serif" font-size="38" stroke="#000" stroke-width="0.6" stroke-linejoin="round">2020—2021</text>
<text transform="translate(247.35,828.83) scale(0.6844,1.0382)" font-family="'Noto Serif CJK SC', 'Noto Serif CJK SC', serif" font-size="36" font-weight="700">日均温</text>
<text transform="translate(331.37,827.20) scale(0.5317,1.0000)" font-family="'Liberation Mono', 'Noto Serif CJK SC', serif" font-size="38" font-weight="bold">Daily mean temperature</text>
<text transform="translate(248.40,867.52) scale(0.6732,0.9794)" font-family="'Noto Serif CJK SC', 'Noto Serif CJK SC', serif" font-size="36" font-weight="700">积温</text>
<text transform="translate(308.60,865.83) scale(0.5286,1.0000)" font-family="'Liberation Mono', 'Noto Serif CJK SC', serif" font-size="38" font-weight="bold">Accumulated temperature</text>
<text transform="translate(79.33,1262.26) rotate(-90) scale(1.0797,1.0000)" font-family="'Noto Serif CJK SC', 'Noto Serif CJK SC', serif" font-size="36" font-weight="500" stroke="#000" stroke-width="0.3" stroke-linejoin="round">日均温 /℃</text>
<text transform="translate(118.22,1383.07) rotate(-90) scale(0.8614,1.0000)" font-family="'Liberation Mono', 'Noto Serif CJK SC', serif" font-size="37" stroke="#000" stroke-width="0.4" stroke-linejoin="round">Daily mean temperature</text>
<text transform="translate(779.08,1232.87) rotate(-90) scale(1.0741,1.0000)" font-family="'Noto Serif CJK SC', 'Noto Serif CJK SC', serif" font-size="36" font-weight="500" stroke="#000" stroke-width="0.3" stroke-linejoin="round">积温 /℃</text>
<text transform="translate(816.67,1382.79) rotate(-90) scale(0.8570,1.0000)" font-family="'Liberation Mono', 'Noto Serif CJK SC', serif" font-size="37" stroke="#000" stroke-width="0.4" stroke-linejoin="round">Accumulated temperature</text>
<text transform="translate(250.69,1490.58) scale(0.8896,1.0600)" font-family="'Liberation Serif', 'Noto Serif CJK SC', serif" font-size="37" stroke="#000" stroke-width="0.6" stroke-linejoin="round">CT1</text>
<text transform="translate(346.08,1490.58) scale(0.8940,1.0600)" font-family="'Liberation Serif', 'Noto Serif CJK SC', serif" font-size="37" stroke="#000" stroke-width="0.6" stroke-linejoin="round">CT2</text>
<text transform="translate(441.50,1490.58) scale(0.8791,1.0600)" font-family="'Liberation Serif', 'Noto Serif CJK SC', serif" font-size="37" stroke="#000" stroke-width="0.6" stroke-linejoin="round">CT3</text>
<text transform="translate(536.75,1490.58) scale(0.7600,1.0600)" font-family="'Liberation Serif', 'Noto Serif CJK SC', serif" font-size="37" stroke="#000" stroke-width="0.6" stroke-linejoin="round">CK</text>
<text transform="translate(344.64,1538.80) scale(1.0047,1.0141)" x="0.00 38.00 76.00 114.00" dy="0.00 0.00 0.00 0.00" font-family="'Liberation Mono', 'Noto Serif CJK SC', serif" font-size="38" font-weight="500" stroke="#000" stroke-width="0.3" stroke-linejoin="round">增温阶段</text>
<text transform="translate(298.22,1574.85) scale(0.8325,1.0000)" font-family="'Liberation Mono', 'Noto Serif CJK SC', serif" font-size="38" stroke="#000" stroke-width="1.1" stroke-linejoin="round">Warming stage</text>
<text transform="translate(936.72,895.09) scale(0.9900,1.0450)" font-family="'Liberation Serif', 'Noto Serif CJK SC', serif" font-size="38" stroke="#000" stroke-width="0.6" stroke-linejoin="round">16</text>
<text transform="translate(936.23,969.95) scale(0.9900,1.0450)" font-family="'Liberation Serif', 'Noto Serif CJK SC', serif" font-size="38" stroke="#000" stroke-width="0.6" stroke-linejoin="round">14</text>
<text transform="translate(937.71,1044.80) scale(0.9900,1.0450)" font-family="'Liberation Serif', 'Noto Serif CJK SC', serif" font-size="38" stroke="#000" stroke-width="0.6" stroke-linejoin="round">12</text>
<text transform="translate(937.22,1119.65) scale(0.9900,1.0450)" font-family="'Liberation Serif', 'Noto Serif CJK SC', serif" font-size="38" stroke="#000" stroke-width="0.6" stroke-linejoin="round">10</text>
<text transform="translate(956.03,1194.51) scale(0.9900,1.0450)" font-family="'Liberation Serif', 'Noto Serif CJK SC', serif" font-size="38" stroke="#000" stroke-width="0.6" stroke-linejoin="round">8</text>
<text transform="translate(955.53,1269.36) scale(0.9900,1.0450)" font-family="'Liberation Serif', 'Noto Serif CJK SC', serif" font-size="38" stroke="#000" stroke-width="0.6" stroke-linejoin="round">6</text>
<text transform="translate(955.04,1344.21) scale(0.9900,1.0450)" font-family="'Liberation Serif', 'Noto Serif CJK SC', serif" font-size="38" stroke="#000" stroke-width="0.6" stroke-linejoin="round">4</text>
<text transform="translate(956.52,1419.07) scale(0.9900,1.0450)" font-family="'Liberation Serif', 'Noto Serif CJK SC', serif" font-size="38" stroke="#000" stroke-width="0.6" stroke-linejoin="round">2</text>
<text transform="translate(1473.23,1458.49) scale(0.9900,1.0450)" font-family="'Liberation Serif', 'Noto Serif CJK SC', serif" font-size="38" stroke="#000" stroke-width="0.6" stroke-linejoin="round">0</text>
<text transform="translate(1473.23,1364.59) scale(0.9900,1.0450)" font-family="'Liberation Serif', 'Noto Serif CJK SC', serif" font-size="38" stroke="#000" stroke-width="0.6" stroke-linejoin="round">200</text>
<text transform="translate(1473.23,1270.69) scale(0.9900,1.0450)" font-family="'Liberation Serif', 'Noto Serif CJK SC', serif" font-size="38" stroke="#000" stroke-width="0.6" stroke-linejoin="round">400</text>
<text transform="translate(1473.23,1176.79) scale(0.9900,1.0450)" font-family="'Liberation Serif', 'Noto Serif CJK SC', serif" font-size="38" stroke="#000" stroke-width="0.6" stroke-linejoin="round">600</text>
<text transform="translate(1473.23,1082.89) scale(0.9900,1.0450)" font-family="'Liberation Serif', 'Noto Serif CJK SC', serif" font-size="38" stroke="#000" stroke-width="0.6" stroke-linejoin="round">800</text>
<text transform="translate(1473.23,988.99) scale(0.9900,1.0450)" font-family="'Liberation Serif', 'Noto Serif CJK SC', serif" font-size="38" stroke="#000" stroke-width="0.6" stroke-linejoin="round">1 000</text>
<text transform="translate(1473.23,895.09) scale(0.9900,1.0450)" font-family="'Liberation Serif', 'Noto Serif CJK SC', serif" font-size="38" stroke="#000" stroke-width="0.6" stroke-linejoin="round">1 200</text>
<text transform="translate(1073.53,1070.10) scale(0.9000,1.0000)" font-family="'Liberation Serif', 'Noto Serif CJK SC', serif" font-size="38" stroke="#000" stroke-width="0.6" stroke-linejoin="round">b</text>
<text transform="translate(1172.42,1060.85) scale(0.9000,1.0000)" font-family="'Liberation Serif', 'Noto Serif CJK SC', serif" font-size="38" stroke="#000" stroke-width="0.6" stroke-linejoin="round">b</text>
<text transform="translate(1266.17,1053.85) scale(0.9000,1.0000)" font-family="'Liberation Serif', 'Noto Serif CJK SC', serif" font-size="38" stroke="#000" stroke-width="0.6" stroke-linejoin="round">b</text>
<text transform="translate(1363.53,989.44) scale(1.1400,0.9900)" font-family="'Liberation Serif', 'Noto Serif CJK SC', serif" font-size="38" stroke="#000" stroke-width="0.6" stroke-linejoin="round">a</text>
<text transform="translate(1072.73,1180.54) scale(1.1400,0.9900)" font-family="'Liberation Serif', 'Noto Serif CJK SC', serif" font-size="38" stroke="#000" stroke-width="0.6" stroke-linejoin="round">a</text>
<text transform="translate(1163.83,1183.04) scale(1.1400,0.9900)" font-family="'Liberation Serif', 'Noto Serif CJK SC', serif" font-size="38" stroke="#000" stroke-width="0.6" stroke-linejoin="round">a</text>
<text transform="translate(1261.73,1183.34) scale(1.1400,0.9900)" font-family="'Liberation Serif', 'Noto Serif CJK SC', serif" font-size="38" stroke="#000" stroke-width="0.6" stroke-linejoin="round">a</text>
<text transform="translate(1355.73,1186.14) scale(1.1400,0.9900)" font-family="'Liberation Serif', 'Noto Serif CJK SC', serif" font-size="38" stroke="#000" stroke-width="0.6" stroke-linejoin="round">a</text>
<text transform="translate(1270.48,924.38) scale(0.9750,1.0200)" x="0.00 19.00 38.00 57.00 71.50 104.99 123.99 142.99 161.99" dy="0 0 0 0 -3 3 0 0 0" font-family="'Liberation Serif', 'Noto Serif CJK SC', serif" font-size="38" stroke="#000" stroke-width="0.6" stroke-linejoin="round">2020—2021</text>
<text transform="translate(1054.48,841.93) scale(0.6795,1.0382)" font-family="'Noto Serif CJK SC', 'Noto Serif CJK SC', serif" font-size="36" font-weight="700">日均温</text>
<text transform="translate(1138.47,840.35) scale(0.5313,1.0000)" font-family="'Liberation Mono', 'Noto Serif CJK SC', serif" font-size="38" font-weight="bold">Daily mean temperature</text>
<text transform="translate(1055.50,880.54) scale(0.6704,1.0029)" font-family="'Noto Serif CJK SC', 'Noto Serif CJK SC', serif" font-size="36" font-weight="700">积温</text>
<text transform="translate(1115.70,878.92) scale(0.5286,1.0000)" font-family="'Liberation Mono', 'Noto Serif CJK SC', serif" font-size="38" font-weight="bold">Accumulated temperature</text>
<text transform="translate(880.58,1252.97) rotate(-90) scale(1.0810,1.0000)" font-family="'Noto Serif CJK SC', 'Noto Serif CJK SC', serif" font-size="36" font-weight="500" stroke="#000" stroke-width="0.3" stroke-linejoin="round">日均温 /℃</text>
<text transform="translate(917.02,1373.37) rotate(-90) scale(0.8614,1.0000)" font-family="'Liberation Mono', 'Noto Serif CJK SC', serif" font-size="37" stroke="#000" stroke-width="0.4" stroke-linejoin="round">Daily mean temperature</text>
<text transform="translate(1580.08,1240.07) rotate(-90) scale(1.0741,1.0000)" font-family="'Noto Serif CJK SC', 'Noto Serif CJK SC', serif" font-size="36" font-weight="500" stroke="#000" stroke-width="0.3" stroke-linejoin="round">积温 /℃</text>
<text transform="translate(1617.12,1389.39) rotate(-90) scale(0.8570,1.0000)" font-family="'Liberation Mono', 'Noto Serif CJK SC', serif" font-size="37" stroke="#000" stroke-width="0.4" stroke-linejoin="round">Accumulated temperature</text>
<text transform="translate(1061.49,1486.38) scale(0.8848,1.0600)" font-family="'Liberation Serif', 'Noto Serif CJK SC', serif" font-size="37" stroke="#000" stroke-width="0.6" stroke-linejoin="round">CT1</text>
<text transform="translate(1157.80,1486.38) scale(0.8797,1.0600)" font-family="'Liberation Serif', 'Noto Serif CJK SC', serif" font-size="37" stroke="#000" stroke-width="0.6" stroke-linejoin="round">CT2</text>
<text transform="translate(1252.91,1486.38) scale(0.8727,1.0600)" font-family="'Liberation Serif', 'Noto Serif CJK SC', serif" font-size="37" stroke="#000" stroke-width="0.6" stroke-linejoin="round">CT3</text>
<text transform="translate(1347.96,1486.38) scale(0.7540,1.0600)" font-family="'Liberation Serif', 'Noto Serif CJK SC', serif" font-size="37" stroke="#000" stroke-width="0.6" stroke-linejoin="round">CK</text>
<text transform="translate(1148.97,1536.33) scale(0.9750,1.0070)" x="0.00 38.00 83.62 114.00 152.00" dy="0.00 0.00 -2.98 2.98 0.00" font-family="'Liberation Mono', 'Noto Serif CJK SC', serif" font-size="38" font-weight="500" stroke="#000" stroke-width="0.3" stroke-linejoin="round">拔节—开花</text>
<text transform="translate(1073.62,1572.35) scale(0.8651,1.0000)" font-family="'Liberation Mono', 'Noto Serif CJK SC', serif" font-size="38" stroke="#000" stroke-width="1.1" stroke-linejoin="round">Jointing—Anthesis</text>
<text transform="translate(1735.42,897.96) scale(0.9900,1.0450)" font-family="'Liberation Serif', 'Noto Serif CJK SC', serif" font-size="38" stroke="#000" stroke-width="0.6" stroke-linejoin="round">25</text>
<text transform="translate(1735.42,1016.45) scale(0.9900,1.0450)" font-family="'Liberation Serif', 'Noto Serif CJK SC', serif" font-size="38" stroke="#000" stroke-width="0.6" stroke-linejoin="round">20</text>
<text transform="translate(1735.42,1134.67) scale(0.9900,1.0450)" font-family="'Liberation Serif', 'Noto Serif CJK SC', serif" font-size="38" stroke="#000" stroke-width="0.6" stroke-linejoin="round">15</text>
<text transform="translate(1735.42,1253.16) scale(0.9900,1.0450)" font-family="'Liberation Serif', 'Noto Serif CJK SC', serif" font-size="38" stroke="#000" stroke-width="0.6" stroke-linejoin="round">10</text>
<text transform="translate(1754.23,1371.25) scale(0.9900,1.0450)" font-family="'Liberation Serif', 'Noto Serif CJK SC', serif" font-size="38" stroke="#000" stroke-width="0.6" stroke-linejoin="round">5</text>
<text transform="translate(2277.53,1459.39) scale(0.9900,1.0450)" font-family="'Liberation Serif', 'Noto Serif CJK SC', serif" font-size="38" stroke="#000" stroke-width="0.6" stroke-linejoin="round">0</text>
<text transform="translate(2277.53,1365.51) scale(0.9900,1.0450)" font-family="'Liberation Serif', 'Noto Serif CJK SC', serif" font-size="38" stroke="#000" stroke-width="0.6" stroke-linejoin="round">200</text>
<text transform="translate(2277.53,1271.63) scale(0.9900,1.0450)" font-family="'Liberation Serif', 'Noto Serif CJK SC', serif" font-size="38" stroke="#000" stroke-width="0.6" stroke-linejoin="round">400</text>
<text transform="translate(2277.53,1177.74) scale(0.9900,1.0450)" font-family="'Liberation Serif', 'Noto Serif CJK SC', serif" font-size="38" stroke="#000" stroke-width="0.6" stroke-linejoin="round">600</text>
<text transform="translate(2277.53,1083.86) scale(0.9900,1.0450)" font-family="'Liberation Serif', 'Noto Serif CJK SC', serif" font-size="38" stroke="#000" stroke-width="0.6" stroke-linejoin="round">800</text>
<text transform="translate(2277.53,989.98) scale(0.9900,1.0450)" font-family="'Liberation Serif', 'Noto Serif CJK SC', serif" font-size="38" stroke="#000" stroke-width="0.6" stroke-linejoin="round">1 000</text>
<text transform="translate(2277.53,896.09) scale(0.9900,1.0450)" font-family="'Liberation Serif', 'Noto Serif CJK SC', serif" font-size="38" stroke="#000" stroke-width="0.6" stroke-linejoin="round">1 200</text>
<text transform="translate(1870.17,970.30) scale(0.9000,1.0000)" font-family="'Liberation Serif', 'Noto Serif CJK SC', serif" font-size="38" stroke="#000" stroke-width="0.6" stroke-linejoin="round">b</text>
<text transform="translate(1967.22,962.15) scale(0.9000,1.0000)" font-family="'Liberation Serif', 'Noto Serif CJK SC', serif" font-size="38" stroke="#000" stroke-width="0.6" stroke-linejoin="round">b</text>
<text transform="translate(2060.73,954.35) scale(0.9000,1.0000)" font-family="'Liberation Serif', 'Noto Serif CJK SC', serif" font-size="38" stroke="#000" stroke-width="0.6" stroke-linejoin="round">b</text>
<text transform="translate(2154.63,914.39) scale(1.1400,0.9900)" font-family="'Liberation Serif', 'Noto Serif CJK SC', serif" font-size="38" stroke="#000" stroke-width="0.6" stroke-linejoin="round">a</text>
<text transform="translate(1869.83,1027.64) scale(1.1400,0.9900)" font-family="'Liberation Serif', 'Noto Serif CJK SC', serif" font-size="38" stroke="#000" stroke-width="0.6" stroke-linejoin="round">a</text>
<text transform="translate(1964.98,1022.49) scale(1.1400,0.9900)" font-family="'Liberation Serif', 'Noto Serif CJK SC', serif" font-size="38" stroke="#000" stroke-width="0.6" stroke-linejoin="round">a</text>
<text transform="translate(2060.73,1028.39) scale(1.1400,0.9900)" font-family="'Liberation Serif', 'Noto Serif CJK SC', serif" font-size="38" stroke="#000" stroke-width="0.6" stroke-linejoin="round">a</text>
<text transform="translate(2154.63,1026.14) scale(1.1400,0.9900)" font-family="'Liberation Serif', 'Noto Serif CJK SC', serif" font-size="38" stroke="#000" stroke-width="0.6" stroke-linejoin="round">a</text>
<text transform="translate(1809.38,928.68) scale(0.9750,1.0200)" x="0.00 19.00 38.00 57.00 71.50 104.99 123.99 142.99 161.99" dy="0 0 0 0 -3 3 0 0 0" font-family="'Liberation Serif', 'Noto Serif CJK SC', serif" font-size="38" stroke="#000" stroke-width="0.6" stroke-linejoin="round">2020—2021</text>
<text transform="translate(1847.58,842.84) scale(0.6805,1.0353)" font-family="'Noto Serif CJK SC', 'Noto Serif CJK SC', serif" font-size="36" font-weight="700">日均温</text>
<text transform="translate(1931.57,841.15) scale(0.5311,1.0000)" font-family="'Liberation Mono', 'Noto Serif CJK SC', serif" font-size="38" font-weight="bold">Daily mean temperature</text>
<text transform="translate(1848.60,881.43) scale(0.6648,1.0059)" font-family="'Noto Serif CJK SC', 'Noto Serif CJK SC', serif" font-size="36" font-weight="700">积温</text>
<text transform="translate(1908.80,879.98) scale(0.5286,1.0000)" font-family="'Liberation Mono', 'Noto Serif CJK SC', serif" font-size="38" font-weight="bold">Accumulated temperature</text>
<text transform="translate(1680.88,1269.47) rotate(-90) scale(1.0810,1.0000)" font-family="'Noto Serif CJK SC', 'Noto Serif CJK SC', serif" font-size="36" font-weight="500" stroke="#000" stroke-width="0.3" stroke-linejoin="round">日均温 /℃</text>
<text transform="translate(1718.22,1390.57) rotate(-90) scale(0.8614,1.0000)" font-family="'Liberation Mono', 'Noto Serif CJK SC', serif" font-size="37" stroke="#000" stroke-width="0.4" stroke-linejoin="round">Daily mean temperature</text>
<text transform="translate(2380.07,1255.47) rotate(-90) scale(1.0741,1.0000)" font-family="'Noto Serif CJK SC', 'Noto Serif CJK SC', serif" font-size="36" font-weight="500" stroke="#000" stroke-width="0.3" stroke-linejoin="round">积温 /℃</text>
<text transform="translate(2416.88,1404.69) rotate(-90) scale(0.8570,1.0000)" font-family="'Liberation Mono', 'Noto Serif CJK SC', serif" font-size="37" stroke="#000" stroke-width="0.4" stroke-linejoin="round">Accumulated temperature</text>
<text transform="translate(1856.49,1482.79) scale(0.8912,1.0600)" font-family="'Liberation Serif', 'Noto Serif CJK SC', serif" font-size="37" stroke="#000" stroke-width="0.6" stroke-linejoin="round">CT1</text>
<text transform="translate(1952.80,1482.79) scale(0.8797,1.0600)" font-family="'Liberation Serif', 'Noto Serif CJK SC', serif" font-size="37" stroke="#000" stroke-width="0.6" stroke-linejoin="round">CT2</text>
<text transform="translate(2047.91,1482.79) scale(0.8727,1.0600)" font-family="'Liberation Serif', 'Noto Serif CJK SC', serif" font-size="37" stroke="#000" stroke-width="0.6" stroke-linejoin="round">CT3</text>
<text transform="translate(2142.96,1482.79) scale(0.7540,1.0600)" font-family="'Liberation Serif', 'Noto Serif CJK SC', serif" font-size="37" stroke="#000" stroke-width="0.6" stroke-linejoin="round">CK</text>
<text transform="translate(1944.60,1536.55) scale(0.9584,1.0139)" x="0.00 38.00 83.62 114.00 152.00" dy="0.00 0.00 -2.96 2.96 0.00" font-family="'Liberation Mono', 'Noto Serif CJK SC', serif" font-size="38" font-weight="500" stroke="#000" stroke-width="0.3" stroke-linejoin="round">开花—成熟</text>
<text transform="translate(1869.73,1572.55) scale(0.8524,1.0000)" font-family="'Liberation Mono', 'Noto Serif CJK SC', serif" font-size="38" stroke="#000" stroke-width="1.1" stroke-linejoin="round">Anthesis—Maturity</text>
</g>
</svg>
</body></html>
